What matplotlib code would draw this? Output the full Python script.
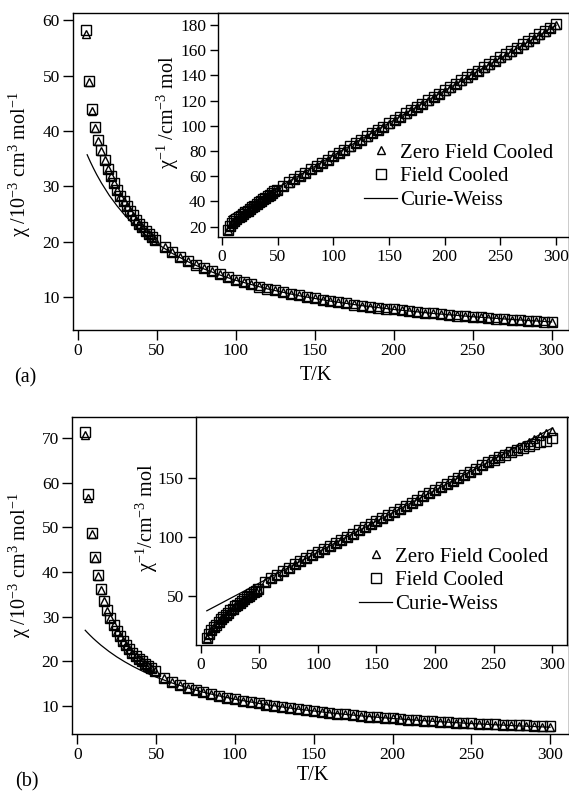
import matplotlib
matplotlib.use('Agg')
import matplotlib.pyplot as plt

plt.rcParams['font.family'] = ['Liberation Serif', 'DejaVu Serif']
plt.rcParams['mathtext.default'] = 'regular'

# ---------------- data ----------------
T = [5, 7, 9, 11, 13, 15, 17, 19, 21, 23, 25, 27, 29, 31, 33, 35, 37, 39, 41, 43, 45, 47, 49,
     55, 60, 65, 70, 75, 80, 85, 90, 95, 100, 105, 110, 115, 120, 125, 130, 135, 140, 145, 150,
     155, 160, 165, 170, 175, 180, 185, 190, 195, 200, 205, 210, 215, 220, 225, 230, 235, 240,
     245, 250, 255, 260, 265, 270, 275, 280, 285, 290, 295, 300]

# panel (a): chi in 10^-3 cm^3 mol^-1
chi_a_zfc = [57.5, 48.8, 43.7, 40.5, 38.2, 36.4, 34.7, 33.2, 31.9, 30.6, 29.4, 28.3, 27.3, 26.4,
             25.5, 24.75, 23.98, 23.26, 22.62, 21.98, 21.37, 20.83, 20.28,
             19.08, 18.18, 17.36, 16.61, 15.92, 15.29, 14.70, 14.16, 13.66, 13.19, 12.75, 12.34,
             11.96, 11.60, 11.26, 10.94, 10.64, 10.35, 10.08, 9.82, 9.58, 9.34, 9.12, 8.91, 8.71,
             8.52, 8.33, 8.16, 7.99, 7.82, 7.67, 7.52, 7.37, 7.23, 7.10, 6.97, 6.85, 6.73, 6.61,
             6.50, 6.39, 6.29, 6.19, 6.09, 5.99, 5.90, 5.81, 5.73, 5.64, 5.56]
chi_a_fc = [58.3, 49.1, 44.0, 40.7, 38.3, 36.5, 34.7, 33.2, 31.9, 30.6, 29.4, 28.3, 27.3, 26.4,
            25.5, 24.8, 24.0, 23.3, 22.6, 22.0, 21.4, 20.8, 20.3,
            19.05, 18.15, 17.33, 16.58, 15.90, 15.27, 14.68, 14.14, 13.64, 13.17, 12.73, 12.32,
            11.94, 11.58, 11.24, 10.92, 10.62, 10.33, 10.06, 9.80, 9.56, 9.32, 9.10, 8.89, 8.69,
            8.50, 8.31, 8.14, 7.97, 7.80, 7.65, 7.50, 7.35, 7.21, 7.08, 6.95, 6.83, 6.71, 6.59,
            6.48, 6.37, 6.27, 6.17, 6.07, 5.97, 5.88, 5.79, 5.71, 5.62, 5.54]
T_cw_a = [6, 8, 10, 12, 15, 20, 25, 30, 35, 40, 45, 50, 60, 70, 80, 90, 100, 120, 140, 160,
          180, 200, 225, 250, 275, 300]
chi_cw_a = [35.72, 34.45, 33.27, 32.16, 30.64, 28.39, 26.46, 24.76, 23.28, 21.96, 20.78, 19.72,
            17.90, 16.39, 15.11, 14.02, 13.07, 11.52, 10.29, 9.31, 8.49, 7.81, 7.09, 6.50,
            6.00, 5.56]

# panel (b)
chi_b_zfc = [70.7, 56.5, 48.5, 43.1, 39.1, 36.0, 33.4, 31.3, 29.6, 28.1, 26.7, 25.6, 24.5, 23.6,
             22.7, 21.9, 21.2, 20.6, 20.0, 19.4, 18.9, 18.4, 17.9,
             16.2, 15.4, 14.7, 14.0, 13.51, 13.04, 12.61, 12.21, 11.82, 11.47, 11.13, 10.81,
             10.51, 10.23, 9.96, 9.71, 9.47, 9.24, 9.02, 8.81, 8.61, 8.42, 8.23, 8.06, 7.89,
             7.73, 7.58, 7.43, 7.28, 7.15, 7.02, 6.89, 6.77, 6.65, 6.53, 6.42, 6.32, 6.21, 6.11,
             6.02, 5.93, 5.84, 5.76, 5.68, 5.60, 5.52, 5.45, 5.38, 5.31, 5.25]
chi_b_fc = [71.4, 57.4, 48.8, 43.3, 39.3, 36.1, 33.5, 31.4, 29.6, 28.1, 26.7, 25.6, 24.5, 23.6,
            22.7, 21.9, 21.2, 20.6, 20.0, 19.4, 18.9, 18.4, 17.9,
            16.2, 15.4, 14.7, 14.0, 13.51, 13.04, 12.61, 12.21, 11.82, 11.47, 11.13, 10.81,
            10.51, 10.23, 9.96, 9.71, 9.47, 9.24, 9.02, 8.81, 8.61, 8.42, 8.23, 8.06, 7.89,
            7.73, 7.58, 7.43, 7.28, 7.15, 7.02, 6.89, 6.77, 6.65, 6.53, 6.42, 6.32, 6.21, 6.11,
            6.04, 5.96, 5.88, 5.81, 5.75, 5.69, 5.63, 5.58, 5.53, 5.49, 5.43]
T_cw_b = [5, 6, 8, 10, 12, 15, 20, 25, 30, 35, 40, 45, 50, 60, 70, 80, 90, 100, 120, 140, 160,
          180, 200, 225, 250, 275, 300]
chi_cw_b = [26.93, 26.55, 25.83, 25.14, 24.50, 23.58, 22.20, 20.97, 19.88, 18.89, 17.99, 17.18,
            16.43, 15.12, 14.01, 13.04, 12.21, 11.47, 10.23, 9.24, 8.42, 7.73, 7.15, 6.53,
            6.02, 5.57, 5.19]

main_xticks = [0, 50, 100, 150, 200, 250, 300]
a_main_yticks = [10, 20, 30, 40, 50, 60]
a_inset_yticks = [20, 40, 60, 80, 100, 120, 140, 160, 180]
b_main_yticks = [10, 20, 30, 40, 50, 60, 70]
b_inset_yticks = [50, 100, 150]

labels = ['Zero Field Cooled', 'Field Cooled', 'Curie-Weiss']
main_ylabel = 'χ /10$^{-3}$ cm$^{3}$ mol$^{-1}$'

W, H = 569, 792
fig = plt.figure(figsize=(W / 100, H / 100), dpi=100)


def rect(l, t, r, b):
    return [l / W, 1 - b / H, (r - l) / W, (b - t) / H]


def style(ax, ticklen, fs=12.5):
    for s in ax.spines.values():
        s.set_linewidth(1.0)
    ax.tick_params(direction='out', length=ticklen, width=1.0, labelsize=fs, pad=2.5,
                   top=False, right=False)


mk = dict(linestyle='none', markerfacecolor='none', markeredgecolor='black',
          markeredgewidth=1.0)


def panel(mrect, irect, xlim_m, ylim_m, xlim_i, ylim_i, yt_m, yt_i,
          chi_zfc, chi_fc, T_cw, chi_cw, ilabel, ylab_m_pos, ylab_i_pos, leg_pos,
          xlab_pos, tag, tag_pos):
    ax = fig.add_axes(rect(*mrect))
    ax.plot(T_cw, chi_cw, color='black', lw=0.9)
    ax.plot(T, chi_fc, marker='s', markersize=6.5, **mk)
    ax.plot(T, chi_zfc, marker='^', markersize=6.0, **mk)
    ax.set_xlim(*xlim_m)
    ax.set_ylim(*ylim_m)
    ax.set_xticks(main_xticks)
    ax.set_yticks(yt_m)
    style(ax, 7)
    ax.set_ylabel(main_ylabel, fontsize=14.5)
    ax.yaxis.label.set_va('center')
    ax.yaxis.set_label_coords(*ylab_m_pos)
    ax.set_xlabel('T/K', fontsize=14.5)
    ax.xaxis.label.set_va('center')
    ax.xaxis.set_label_coords(*xlab_pos)

    ins = fig.add_axes(rect(*irect))
    ins.set_facecolor('white')
    inv_zfc = [1000.0 / c for c in chi_zfc]
    inv_fc = [1000.0 / c for c in chi_fc]
    inv_cw = [1000.0 / c for c in chi_cw]
    hz, = ins.plot(T, inv_zfc, marker='^', markersize=6.0, **mk)
    hf, = ins.plot(T, inv_fc, marker='s', markersize=6.5, **mk)
    hc, = ins.plot(T_cw, inv_cw, color='black', lw=0.9)
    ins.set_xlim(*xlim_i)
    ins.set_ylim(*ylim_i)
    ins.set_xticks(main_xticks)
    ins.set_yticks(yt_i)
    style(ins, 6)
    ins.set_ylabel(ilabel, fontsize=14.5)
    ins.yaxis.label.set_va('center')
    ins.yaxis.set_label_coords(*ylab_i_pos)
    fig.legend([hz, hf, hc], labels, loc='upper left',
               bbox_to_anchor=(leg_pos[0] / W, 1 - leg_pos[1] / H),
               bbox_transform=fig.transFigure, frameon=False, fontsize=15,
               borderpad=0, borderaxespad=0, handlelength=1.6, handletextpad=0.15,
               labelspacing=0.2)
    fig.text(tag_pos[0] / W, 1 - tag_pos[1] / H, tag, fontsize=14.5,
             ha='center', va='center')


panel((73, 13, 569, 330), (218, 13, 569, 237),
      (-2.97, 311), (4.1, 61.3), (-3.6, 311.7), (11.8, 189.6),
      a_main_yticks, a_inset_yticks,
      chi_a_zfc, chi_a_fc, T_cw_a, chi_cw_a,
      'χ$^{-1}$ /cm$^{-3}$ mol', (-0.107, 0.524), (-0.144, 0.556), (364, 143),
      (0.49, -0.145), '(a)', (25, 378))

panel((72.3, 417.3, 569, 734.3), (195.7, 417.3, 567, 645),
      (-3.2, 312), (3.6, 74.7), (-4.5, 312.8), (8, 202),
      b_main_yticks, b_inset_yticks,
      chi_b_zfc, chi_b_fc, T_cw_b, chi_cw_b,
      'χ$^{-1}$/cm$^{-3}$ mol', (-0.105, 0.534), (-0.1325, 0.56), (359, 547),
      (0.485, -0.13), '(b)', (27, 782))

fig.savefig('out.png', dpi=100)
